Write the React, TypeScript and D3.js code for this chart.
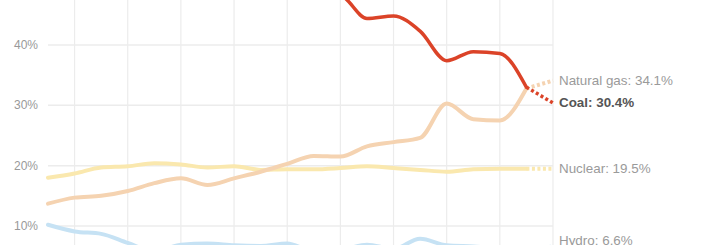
import React from "react";
import * as d3 from "d3";

const years = [1997, 1998, 1999, 2000, 2001, 2002, 2003, 2004, 2005, 2006, 2007, 2008, 2009, 2010, 2011, 2012, 2013, 2014, 2015, 2016];
const coal = [52.8, 51.8, 50.9, 51.7, 50.9, 50.1, 50.8, 49.8, 49.6, 49.0, 48.5, 48.2, 44.4, 44.8, 42.3, 37.4, 38.9, 38.6, 33.0, 30.4];
const gas = [13.7, 14.7, 15.0, 15.8, 17.1, 17.9, 16.8, 17.9, 19.0, 20.3, 21.6, 21.5, 23.2, 23.9, 24.6, 30.3, 27.7, 27.5, 32.8, 34.1];
const nuclear = [18.0, 18.7, 19.7, 19.9, 20.4, 20.2, 19.7, 19.9, 19.3, 19.4, 19.4, 19.6, 19.9, 19.6, 19.3, 19.0, 19.4, 19.5, 19.5, 19.5];
const hydro = [10.2, 9.1, 8.7, 7.2, 5.8, 6.9, 7.1, 6.8, 6.7, 7.1, 5.8, 6.0, 6.9, 6.2, 7.9, 6.8, 6.6, 6.3, 6.1, 6.6];
const yTicks = [10, 20, 30, 40];
const gridYears = [1998, 2000, 2002, 2004, 2006, 2008, 2010, 2012, 2014, 2016];

const seriesNames = ["Hydro", "Nuclear", "Natural gas", "Coal"];
const seriesValues = [hydro, nuclear, gas, coal];
const seriesColors = ["#c6e2f4", "#fae8ae", "#f5d3b1", "#db4328"];
const labelColors = ["#9a9a9a", "#9a9a9a", "#9a9a9a", "#555555"];
const labelWeights = ["normal", "normal", "normal", "bold"];
const labelShift = [-6.5, 0, 0, 0];

export default function App() {
  const W = 704, H = 245;
  const x = d3.scaleLinear().domain([1997, 2016]).range([48, 553]);
  const y = d3.scaleLinear().domain([10, 40]).range([226, 45]);
  const n = years.length;

  const line = d3
    .line<[number, number]>()
    .x((d) => x(d[0]))
    .y((d) => y(d[1]))
    .curve(d3.curveMonotoneX);
  const straight = d3
    .line<[number, number]>()
    .x((d) => x(d[0]))
    .y((d) => y(d[1]));

  return (
    <div style={{ position: "absolute", left: 0, top: 0 }}>
      <svg width={W} height={H} style={{ display: "block", overflow: "hidden" }} fontFamily="'Liberation Sans', Arial, Helvetica, sans-serif">
        <rect width={W} height={H} fill="#ffffff" />
        {gridYears.map((yr) => (
          <line key={yr} x1={x(yr)} x2={x(yr)} y1={0} y2={H} stroke="#ececec" strokeWidth={1.2} />
        ))}
        {yTicks.map((t) => (
          <g key={t}>
            <line x1={x(1997)} x2={x(2016)} y1={y(t)} y2={y(t)} stroke="#ececec" strokeWidth={1.5} />
            <text x={38} y={y(t)} textAnchor="end" dominantBaseline="central" fontSize={12} fill="#999999">
              {t}%
            </text>
          </g>
        ))}
        {seriesValues.map((vals, i) => {
          const pts: [number, number][] = years.map((yr, j) => [yr, vals[j]]);
          const solid = pts.slice(0, n - 1);
          const dashed = pts.slice(n - 2);
          return (
            <g key={seriesNames[i]}>
              <path d={line(solid) || ""} fill="none" stroke={seriesColors[i]} strokeWidth={i === 3 ? 3.5 : 4} strokeLinejoin="round" strokeLinecap="round" />
              <path d={straight(dashed) || ""} fill="none" stroke={seriesColors[i]} strokeWidth={i === 3 ? 3.5 : 4} strokeDasharray="3,2.5" />
            </g>
          );
        })}
        {seriesValues.map((vals, i) => (
          <text
            key={"l" + i}
            x={559}
            y={y(vals[n - 1]) + labelShift[i]}
            dominantBaseline="central"
            fontSize={13.4}
            fontWeight={labelWeights[i]}
            fill={labelColors[i]}
          >
            {seriesNames[i]}: {vals[n - 1].toFixed(1)}%
          </text>
        ))}
      </svg>
    </div>
  );
}
